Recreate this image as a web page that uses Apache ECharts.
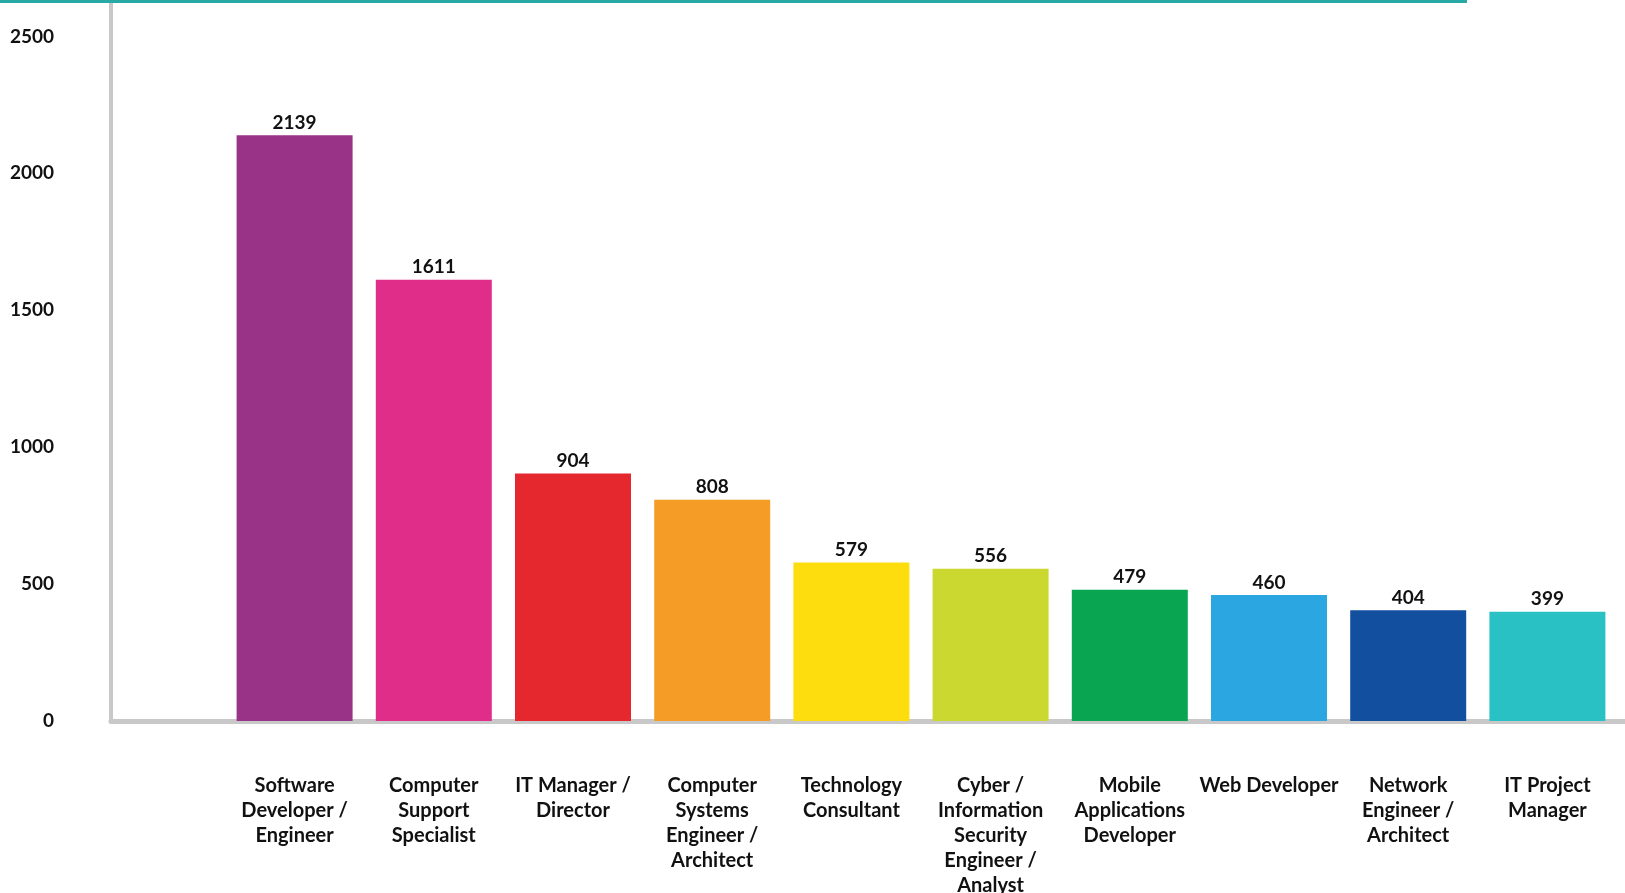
<!DOCTYPE html>
<html>
<head>
<meta charset="utf-8">
<script src="https://cdn.jsdelivr.net/npm/echarts@6/dist/echarts.min.js"></script>
<style>
html,body{margin:0;padding:0;background:#fff;}
#chart{width:1625px;height:893px;}
</style>
</head>
<body>
<div id="chart"></div>
<script>
const categories = [
  "Software\nDeveloper /\nEngineer",
  "Computer\nSupport\nSpecialist",
  "IT Manager /\nDirector",
  "Computer\nSystems\nEngineer /\nArchitect",
  "Technology\nConsultant",
  "Cyber /\nInformation\nSecurity\nEngineer /\nAnalyst",
  "Mobile\nApplications\nDeveloper",
  "Web Developer",
  "Network\nEngineer /\nArchitect",
  "IT Project\nManager"
];
const values = [2139, 1611, 904, 808, 579, 556, 479, 460, 404, 399];
const barColors = ["#993387", "#e02d89", "#e4282e", "#f59c27", "#fedd0e", "#cbd82f", "#0aa551", "#2ba6e0", "#134f9f", "#29c1c3"];
const yTicks = [0, 500, 1000, 1500, 2000, 2500];

const FONT = "Lato";
const WEIGHT = 'bold';
const TEXT = "#111111";
const AXIS = "#c8c8c8";
const Y_MAX = 2633;

const chart = echarts.init(document.getElementById('chart'), null, {renderer: 'canvas'});
chart.setOption({
  animation: false,
  backgroundColor: '#ffffff',
  graphic: [{
    type: 'rect',
    shape: {x: 0, y: 0, width: 1467, height: 3},
    style: {fill: '#29a9a5'},
    z: 100
  }],
  grid: [
    {left: 111, right: 0, top: 0, bottom: 172, containLabel: false, outerBoundsMode: 'none'},
    {left: 225, right: 8, top: 0, bottom: 172, containLabel: false, outerBoundsMode: 'none'}
  ],
  xAxis: [
    {
      gridIndex: 0, type: 'value', min: 0, max: 1,
      axisLabel: {show: false}, axisTick: {show: false}, splitLine: {show: false},
      axisLine: {show: true, lineStyle: {color: AXIS, width: 5}}
    },
    {
      gridIndex: 1, type: 'category', data: categories,
      axisLine: {show: false}, axisTick: {show: false}, splitLine: {show: false},
      axisLabel: {
        interval: 0, margin: 52, color: TEXT, fontFamily: FONT, fontWeight: WEIGHT,
        fontSize: 20, lineHeight: 25, align: 'center', verticalAlign: 'top'
      }
    }
  ],
  yAxis: [
    {
      gridIndex: 0, type: 'value', min: 0, max: Y_MAX, interval: 500,
      axisLine: {show: true, lineStyle: {color: AXIS, width: 4}},
      axisTick: {show: false}, splitLine: {show: false},
      axisLabel: {
        margin: 57, color: TEXT, fontFamily: FONT, fontWeight: WEIGHT, fontSize: 19,
        showMaxLabel: false,
        formatter: v => (yTicks.indexOf(v) >= 0 ? String(v) : '')
      }
    },
    {
      gridIndex: 1, type: 'value', min: 0, max: Y_MAX, interval: 500, show: false,
      splitLine: {show: false}
    }
  ],
  series: [{
    type: 'bar',
    xAxisIndex: 1, yAxisIndex: 1,
    data: values.map((v, i) => ({value: v, itemStyle: {color: barColors[i]}})),
    barWidth: 116,
    label: {
      show: true, position: 'top', distance: 3,
      color: TEXT, fontFamily: FONT, fontWeight: WEIGHT, fontSize: 19
    },
    z: 1
  }]
});
</script>
</body>
</html>
